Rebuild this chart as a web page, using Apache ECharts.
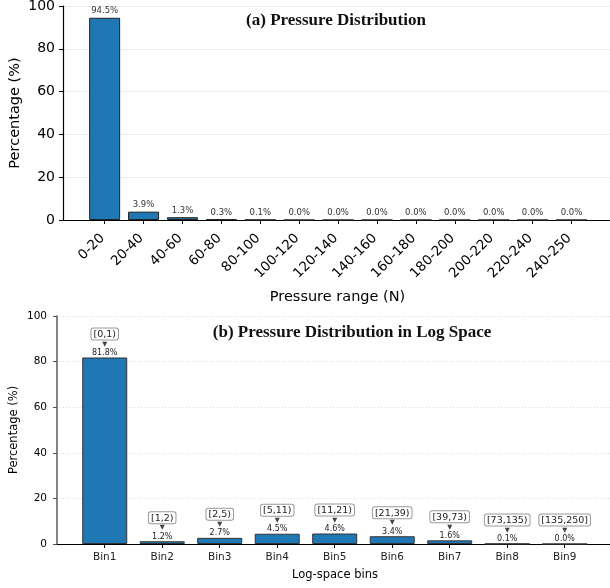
<!DOCTYPE html>
<html>
<head>
<meta charset="utf-8">
<script src="https://cdn.jsdelivr.net/npm/echarts@6/dist/echarts.min.js"></script>
<style>html,body{margin:0;padding:0;background:#fff}#c{width:610px;height:588px}</style>
</head>
<body>
<div id="c"></div>
<script>
// ---- data ----
const pressureCats = ['0-20','20-40','40-60','60-80','80-100','100-120','120-140','140-160','160-180','180-200','200-220','220-240','240-250'];
const pressureVals = [94.5, 3.9, 1.3, 0.3, 0.1, 0.0, 0.0, 0.0, 0.0, 0.0, 0.0, 0.0, 0.0];
const logCats = ['Bin1','Bin2','Bin3','Bin4','Bin5','Bin6','Bin7','Bin8','Bin9'];
const logRanges = ['[0,1)','[1,2)','[2,5)','[5,11)','[11,21)','[21,39)','[39,73)','[73,135)','[135,250]'];
const logVals = [81.8, 1.2, 2.7, 4.5, 4.6, 3.4, 1.6, 0.1, 0.0];
const yTicks = [0, 20, 40, 60, 80, 100];

const FONT = 'DejaVu Sans';
const chart = echarts.init(document.getElementById('c'), null, {renderer: 'canvas'});
const idx1 = pressureCats.map((_, i) => i);
const idx2 = logCats.map((_, i) => i);

const option = {
  animation: false,
  backgroundColor: '#fff',
  textStyle: {fontFamily: FONT},
  grid: [
    {left: 63, right: -2, top: 6, bottom: 368, outerBoundsMode: 'none', containLabel: false},
    {left: 57, right: -3, top: 316, bottom: 44, outerBoundsMode: 'none', containLabel: false}
  ],
  xAxis: [
    {
      type: 'value', gridIndex: 0, min: -1.07, max: 13.04,
      name: 'Pressure range (N)', nameLocation: 'middle', nameGap: 70, nameMoveOverlap: false,
      nameTextStyle: {fontSize: 14.5, color: '#000', fontFamily: FONT},
      axisLine: {show: true, onZero: false, lineStyle: {color: '#000', width: 1.2}},
      axisTick: {show: true, customValues: idx1, length: 4, lineStyle: {color: '#000'}},
      axisLabel: {customValues: idx1, formatter: v => pressureCats[Math.round(v)], rotate: 45, fontSize: 13.5, color: '#000', margin: 14, fontFamily: FONT, padding: [0, 3, 0, 0]},
      splitLine: {show: false}
    },
    {
      type: 'value', gridIndex: 1, min: -0.83, max: 8.84,
      name: 'Log-space bins', nameLocation: 'middle', nameGap: 25, nameMoveOverlap: false,
      nameTextStyle: {fontSize: 11.5, color: '#000', fontFamily: FONT},
      axisLine: {show: true, onZero: false, lineStyle: {color: '#000', width: 1.2}},
      axisTick: {show: true, customValues: idx2, length: 4, lineStyle: {color: '#000'}},
      axisLabel: {customValues: idx2, formatter: v => logCats[Math.round(v)], fontSize: 10.5, color: '#222', margin: 8, fontFamily: FONT},
      splitLine: {show: false}
    }
  ],
  yAxis: [
    {
      type: 'value', gridIndex: 0, min: 0, max: 100, interval: 20,
      name: 'Percentage (%)', nameLocation: 'middle', nameGap: 40, nameMoveOverlap: false,
      nameTextStyle: {fontSize: 14.5, color: '#000', fontFamily: FONT},
      axisLine: {show: true, onZero: false, lineStyle: {color: '#000', width: 1.2}},
      axisTick: {show: true, length: 4, lineStyle: {color: '#000'}},
      axisLabel: {fontSize: 14, color: '#000', margin: 8, fontFamily: FONT},
      splitLine: {show: true, lineStyle: {color: '#ebebeb', width: 1}}
    },
    {
      type: 'value', gridIndex: 1, min: 0, max: 100, interval: 20,
      name: 'Percentage (%)', nameLocation: 'middle', nameGap: 37, nameMoveOverlap: false,
      nameTextStyle: {fontSize: 11.5, color: '#000', fontFamily: FONT},
      axisLine: {show: true, onZero: false, lineStyle: {color: '#666', width: 1.6}},
      axisTick: {show: true, length: 4, lineStyle: {color: '#555'}},
      axisLabel: {fontSize: 10.5, color: '#000', margin: 10, fontFamily: FONT},
      splitLine: {show: true, lineStyle: {color: '#dcdcdc', width: 1, type: [1, 2]}}
    }
  ],
  graphic: [
    {type: 'text', x: 336, y: 21, style: {text: '(a) Pressure Distribution', fontFamily: 'Liberation Serif', fontWeight: 'bold', fontSize: 17, fill: '#111', align: 'center', verticalAlign: 'middle'}},
    {type: 'text', x: 352, y: 333, style: {text: '(b) Pressure Distribution in Log Space', fontFamily: 'Liberation Serif', fontWeight: 'bold', fontSize: 17, fill: '#111', align: 'center', verticalAlign: 'middle'}}
  ],
  series: [
    {
      type: 'bar', xAxisIndex: 0, yAxisIndex: 0, barWidth: 31,
      data: pressureVals.map((v, i) => [i, v]),
      itemStyle: {color: '#1f77b4', borderColor: '#222', borderWidth: 1},
      label: {show: true, position: 'top', distance: 2, fontSize: 8.5, color: '#333', fontFamily: FONT,
        formatter: p => p.value[1].toFixed(1) + '%'}
    },
    {
      type: 'bar', xAxisIndex: 1, yAxisIndex: 1, barWidth: 45,
      data: logVals.map((v, i) => [i, v]),
      itemStyle: {color: '#1f77b4', borderColor: '#333', borderWidth: 1},
      label: {show: true, position: 'top', distance: 0, fontFamily: FONT,
        formatter: p => '{box|' + logRanges[p.dataIndex] + '}\n{arr|▼}\n{val|' + p.value[1].toFixed(1) + '%}',
        rich: {
          box: {fontSize: 9.5, color: '#222', fontFamily: FONT, borderColor: '#999', borderWidth: 1, borderRadius: 2, padding: [1, 2, 0, 2], backgroundColor: '#fff', lineHeight: 11, align: 'center'},
          arr: {fontSize: 6.5, color: '#444', lineHeight: 9, align: 'center'},
          val: {fontSize: 8, color: '#222', fontFamily: FONT, lineHeight: 9, align: 'center'}
        }
      }
    }
  ]
};
chart.setOption(option);
</script>
</body>
</html>
